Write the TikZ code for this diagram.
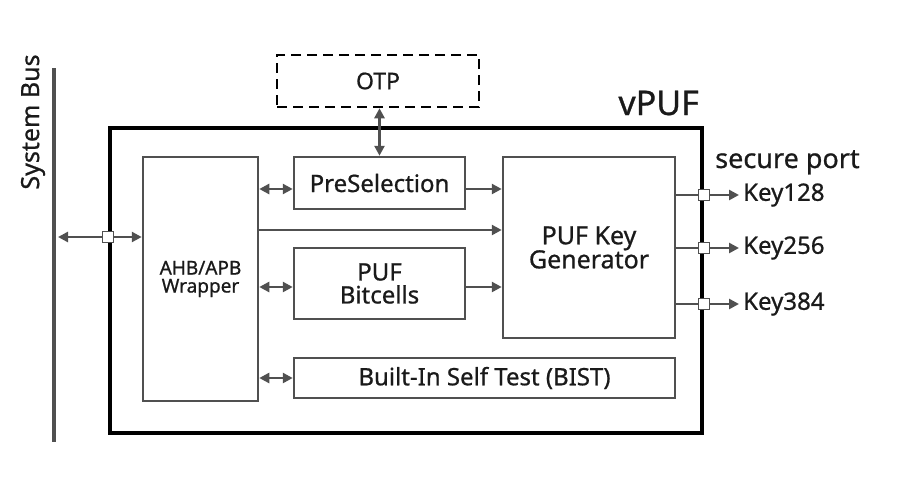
\documentclass[tikz,border=0pt]{standalone}
\usepackage{fontspec}
\setmainfont{Noto Sans}[FakeBold=0.8]
\usetikzlibrary{arrows.meta}
\definecolor{boxgray}{HTML}{505050}
\definecolor{txt}{HTML}{1A1A1A}
\newcommand{\fsz}[1]{\fontsize{#1}{#1}\selectfont}
\begin{document}
\begin{tikzpicture}[x=1pt,y=-1pt,
  inbox/.style={draw=boxgray, line width=2.5pt, fill=white, inner sep=0pt, text=txt, align=center, font=\fsz{24}},
  arr/.style={draw=boxgray, line width=2.8pt, -{Triangle[length=10pt,width=10pt]}},
  darr/.style={draw=boxgray, line width=2.8pt, {Triangle[length=10pt,width=10pt]}-{Triangle[length=10pt,width=10pt]}},
  sq/.style={draw=boxgray, fill=white, line width=1.5pt, minimum size=11pt, inner sep=0pt},
  lbl/.style={text=txt, inner sep=0pt}
]
\useasboundingbox (0,0) rectangle (897,488);
% outer box
\node[draw=black, line width=4pt, minimum width=592pt, minimum height=305pt, inner sep=0pt] (outer) at (406,280.5) {};
\node[lbl, font=\fsz{34}, anchor=base east] (vpuf) at (699,115) {vPUF};
% system bus
\coordinate (busT) at (54,68);
\coordinate (busB) at (54,442);
\draw[boxgray, line width=4.5pt] (busT) -- (busB);
\node[lbl, font=\fsz{25}, rotate=90] (bustxt) at (33,122) {System Bus};
% blocks
\node[draw=black, line width=2.5pt, dash pattern=on 10pt off 6pt, minimum width=202pt, minimum height=52pt, inner sep=0pt, text=txt, font=\fsz{23}] (otp) at (378,81) {OTP};
\node[inbox, minimum width=171pt, minimum height=52pt] (pre) at (379.5,183) {PreSelection};
\node[inbox, minimum width=115pt, minimum height=244pt, font=\fsz{19}] (wrap) at (200.5,279) {AHB/APB\\[-1pt]Wrapper};
\node[inbox, minimum width=171pt, minimum height=71pt] (bit) at (379.5,283.5) {PUF\\[-1pt]Bitcells};
\node[inbox, minimum width=381pt, minimum height=40pt] (bist) at (484.5,378) {Built-In Self Test (BIST)};
\node[inbox, minimum width=172pt, minimum height=181pt, font=\fsz{25}] (kg) at (589,247.5) {PUF Key\\[-1pt]Generator};
% row coordinates
\coordinate (r1) at (0,189);
\coordinate (r2) at (0,230);
\coordinate (r3) at (0,287);
\coordinate (r4) at (0,378);
\coordinate (rb) at (0,237);
\coordinate (k1) at (0,195);
\coordinate (k2) at (0,248);
\coordinate (k3) at (0,304);
\coordinate (kend) at (739,0);
\coordinate (busR) at (58,0);
% connectors
\draw[darr] (pre.north |- otp.south) -- (pre.north);
\draw[darr] (wrap.east |- r1) -- (pre.west |- r1);
\draw[arr] (pre.east |- r1) -- (kg.west |- r1);
\draw[arr] (wrap.east |- r2) -- (kg.west |- r2);
\draw[darr] (wrap.east |- r3) -- (bit.west |- r3);
\draw[arr] (bit.east |- r3) -- (kg.west |- r3);
\draw[darr] (wrap.east |- r4) -- (bist.west |- r4);
\draw[darr] (busR |- rb) -- (wrap.west |- rb);
\node[sq] (pb) at (outer.west |- rb) {};
% outputs
\foreach \k in {k1,k2,k3}{
  \draw[arr] (kg.east |- \k) -- (kend |- \k);
  \node[sq] (p\k) at (outer.east |- \k) {};
}
\node[lbl, font=\fsz{27}, anchor=base west] (sp) at (715,168) {secure port};
\node[lbl, font=\fsz{24}, anchor=west] (key1) at (743,195) {Key128};
\node[lbl, font=\fsz{24}, anchor=west] (key2) at (743,248) {Key256};
\node[lbl, font=\fsz{24}, anchor=west] (key3) at (743,304) {Key384};
\end{tikzpicture}
\end{document}
